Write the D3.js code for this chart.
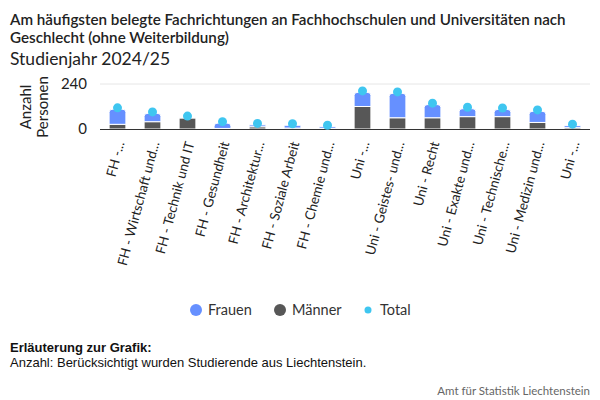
<!DOCTYPE html>
<html>
<head>
<meta charset="utf-8">
<script src="https://cdn.jsdelivr.net/npm/d3@7"></script>
<style>
  body { margin: 0; background: #fff; }
  svg { display: block; }
</style>
</head>
<body>
<script>
// Fachrichtungen (gekürzte Achsenbeschriftung wie im Original)
const categories = [
  "FH -...", "FH - Wirtschaft und...", "FH - Technik und IT", "FH - Gesundheit",
  "FH - Architektur...", "FH - Soziale Arbeit", "FH - Chemie und...",
  "Uni -...", "Uni - Geistes- und...", "Uni - Recht", "Uni - Exakte und...",
  "Uni - Technische...", "Uni - Medizin und...", "Uni -..."
];
const maenner = [25, 39, 59, 3, 12, 5, 3, 120, 60, 60, 66, 66, 35, 7];
const frauen  = [80, 44, 2, 28, 10, 15, 9, 75, 130, 70, 42, 38, 59, 11];
const total   = [105, 83, 61, 31, 22, 20, 12, 195, 190, 130, 108, 104, 94, 18];
const yTicks = [0, 240];

const W = 600, H = 400;
const m = { left: 100, right: 10, top: 84 };
const font = "Lato, 'Noto Sans', sans-serif";

const svg = d3.select("body").append("svg").attr("width", W).attr("height", H);

// Titel
const title = svg.append("text").attr("x", 10).attr("y", 25)
  .style("font-family", font).style("font-size", "15.2px")
  .style("font-weight", "600").attr("fill", "#222");
title.append("tspan").attr("x", 10).text("Am häufigsten belegte Fachrichtungen an Fachhochschulen und Universitäten nach");
title.append("tspan").attr("x", 10).attr("dy", 18).text("Geschlecht (ohne Weiterbildung)");
svg.append("text").attr("x", 10).attr("y", 65)
  .style("font-family", font).style("font-size", "17.5px")
  .attr("fill", "#222").text("Studienjahr 2024/25");

// Index als Domain, da zwei Kategorien gleich beschriftet sind
const idx = d3.range(categories.length);
const x = d3.scaleBand().domain(idx).range([m.left, W - m.right]).paddingInner(0.52).paddingOuter(0.26);
const y = d3.scaleLinear().domain([0, 240]).range([129, m.top]);
const bw = x.bandwidth();

// Gitterlinie
svg.append("g").selectAll("line").data(yTicks.filter(d => d > 0)).join("line")
  .attr("x1", m.left).attr("x2", W - m.right)
  .attr("y1", d => y(d)).attr("y2", d => y(d))
  .attr("stroke", "#e6e6e6").attr("stroke-width", 1);

// Y-Achse
const yAxis = svg.append("g").attr("transform", `translate(${m.left - 13},0)`)
  .call(d3.axisLeft(y).tickValues(yTicks).tickSize(0).tickPadding(0));
yAxis.select(".domain").remove();
yAxis.selectAll("text").style("font-family", font)
  .style("font-size", "15px").attr("fill", "#222");

const yt = svg.append("text").attr("transform", "translate(31,107) rotate(-90)")
  .attr("text-anchor", "middle")
  .style("font-family", font).style("font-size", "15px").attr("fill", "#222");
yt.append("tspan").attr("x", 0).attr("dy", 0).text("Anzahl");
yt.append("tspan").attr("x", 0).attr("dy", 17).text("Personen");

// gestapelte Balken
const stackData = idx.map(i => ({ i: i, "Männer": maenner[i], "Frauen": frauen[i] }));
const series = d3.stack().keys(["Männer", "Frauen"])(stackData);
const colors = { "Männer": "#575757", "Frauen": "#6690ff" };
const r = 3;

function barPath(x0, y0, y1, round) {
  const w = bw, h = y0 - y1;
  if (!round || h < r) return `M${x0},${y0}V${y1}H${x0 + w}V${y0}Z`;
  return `M${x0},${y0}V${y1 + r}Q${x0},${y1} ${x0 + r},${y1}H${x0 + w - r}Q${x0 + w},${y1} ${x0 + w},${y1 + r}V${y0}Z`;
}

series.forEach((s, si) => {
  svg.append("g").selectAll("path").data(s).join("path")
    .attr("d", d => barPath(x(d.data.i), y(d[0]), y(d[1]), si === 1 || d.data["Frauen"] < 1))
    .attr("fill", colors[s.key])
    .attr("stroke", "#fff").attr("stroke-width", 1);
});

// Achsenlinie
svg.append("line").attr("x1", m.left).attr("x2", W - m.right)
  .attr("y1", y(0) + 0.5).attr("y2", y(0) + 0.5).attr("stroke", "#333").attr("stroke-width", 1);

// Total-Punkte
svg.append("g").selectAll("circle").data(total).join("circle")
  .attr("cx", (d, i) => x(i) + bw / 2)
  .attr("cy", d => y(d) - 1.5)
  .attr("r", 4.5).attr("fill", "#3fc6f0");

// X-Beschriftung
svg.append("g").selectAll("text").data(idx).join("text")
  .attr("transform", i => `translate(${x(i) + bw / 2 + 7},${143}) rotate(-75)`)
  .attr("text-anchor", "end")
  .style("font-family", font).style("font-size", "13.5px")
  .attr("fill", "#222").text(i => categories[i]);

// Legende
const legend = [
  { name: "Frauen", color: "#6690ff", r: 6, x: 196 },
  { name: "Männer", color: "#575757", r: 6, x: 280 },
  { name: "Total", color: "#3fc6f0", r: 3.5, x: 368 }
];
const lg = svg.append("g").selectAll("g").data(legend).join("g")
  .attr("transform", d => `translate(${d.x},310)`);
lg.append("circle").attr("r", d => d.r).attr("fill", d => d.color);
lg.append("text").attr("x", 12).attr("y", 5)
  .style("font-family", font).style("font-size", "14.5px")
  .attr("fill", "#333").text(d => d.name);

// Fussnote
svg.append("text").attr("x", 10).attr("y", 352)
  .style("font-family", "'Liberation Sans', Arial, sans-serif").style("font-size", "13px")
  .style("font-weight", "bold").attr("fill", "#111").text("Erläuterung zur Grafik:");
svg.append("text").attr("x", 10).attr("y", 367)
  .style("font-family", "'Liberation Sans', Arial, sans-serif").style("font-size", "13px")
  .attr("fill", "#111").text("Anzahl: Berücksichtigt wurden Studierende aus Liechtenstein.");
svg.append("text").attr("x", 590).attr("y", 395).attr("text-anchor", "end")
  .style("font-family", font).style("font-size", "11.5px")
  .attr("fill", "#666").text("Amt für Statistik Liechtenstein");
</script>
</body>
</html>
